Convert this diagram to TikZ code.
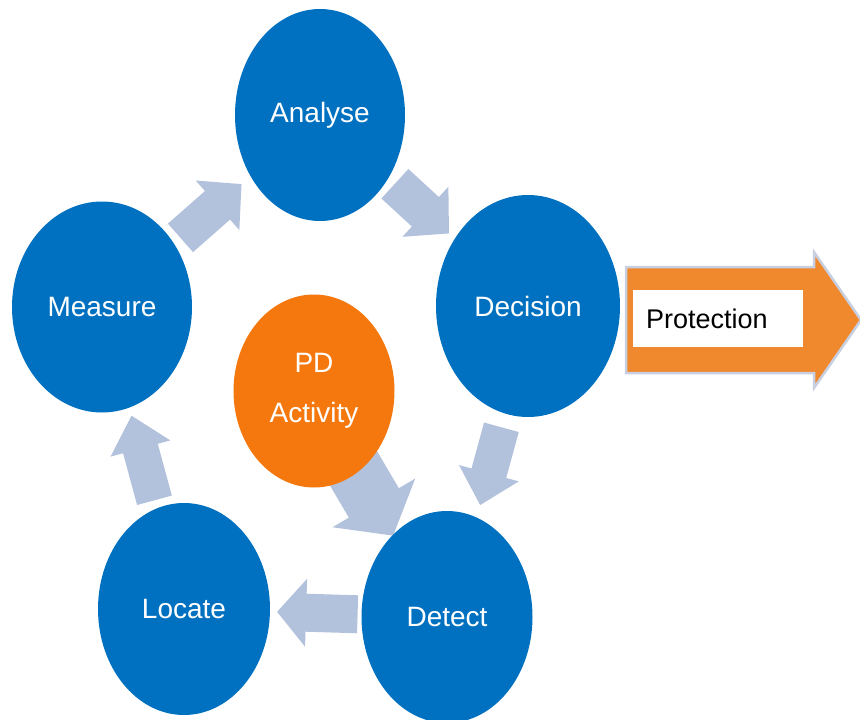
\documentclass[tikz,border=0pt]{standalone}
\usepackage{fontspec}
\setmainfont{Liberation Sans}
\usetikzlibrary{calc,shapes.geometric}
\pgfdeclarelayer{background}
\pgfsetlayers{background,main}
\definecolor{cblue}{RGB}{0,112,192}
\definecolor{corange}{RGB}{244,120,14}
\definecolor{parrow}{RGB}{240,137,46}
\definecolor{pborder}{RGB}{200,207,225}
\definecolor{barrow}{RGB}{178,193,220}
\newcommand\blockarr[6]{%
  \path ($(#3)!#6!(#2)$) coordinate (hb);
  \fill[#1] ($(#2)!#4!90:(#3)$) -- ($(hb)!#4!90:(#3)$) -- ($(hb)!#5!90:(#3)$) -- (#3)
    -- ($(hb)!#5!-90:(#3)$) -- ($(hb)!#4!-90:(#3)$) -- ($(#2)!#4!-90:(#3)$) -- cycle;}
\begin{document}
\begin{tikzpicture}[x=1pt,y=-1pt,
  stage/.style={ellipse, fill=cblue, inner sep=0pt, text=white, font=\fontsize{28}{33}\selectfont},
  cyclearrow/.style={fill=barrow}]
\useasboundingbox (0,0) rectangle (860,720);
% stages
\node[stage, minimum width=170pt, minimum height=212pt] (analyse) at (320,115) {Analyse};
\node[stage, minimum width=180pt, minimum height=211pt] (measure) at (102,307) {Measure};
\node[stage, minimum width=184pt, minimum height=222pt] (decision) at (528,306) {Decision};
\node[stage, minimum width=172pt, minimum height=212pt] (locate) at (184,609) {Locate};
\node[stage, minimum width=171pt, minimum height=212pt] (detect) at (447,617) {Detect};
\node[stage, fill=corange, minimum width=161pt, minimum height=193pt, align=center,
  font=\fontsize{28}{50}\selectfont] (pd) at (314,391) {PD\\Activity};
% protection arrow
\fill[parrow, draw=pborder, line width=2.5pt] (626,267) -- (814,267) -- (814,252) -- (861,320)
  -- (814,388) -- (814,373) -- (626,373) -- cycle;
\node[fill=white, minimum width=170pt, minimum height=57pt, text width=144pt, inner xsep=13pt,
  inner ysep=0pt, align=left, font=\fontsize{27}{32}\selectfont] (prot) at (718,318.5) {Protection};
% cycle arrows
\begin{pgfonlayer}{background}
\coordinate (a1s) at ($(measure)!0.36!(analyse)$);
\coordinate (a1e) at ($(measure)!0.64!(analyse)$);
\coordinate (a2s) at ($(analyse)!0.36!(decision)$);
\coordinate (a2e) at ($(analyse)!0.62!(decision)$);
\coordinate (a3s) at ($(decision)!0.39!(detect)+(5,0)$);
\coordinate (a3e) at ($(decision)!0.64!(detect)+(4,0)$);
\coordinate (a4s) at ($(pd)!0.2!(detect)+(-6,0)$);
\coordinate (a4e) at ($(pd)!0.64!(detect)+(-6,0)$);
\coordinate (a5s) at ($(detect)!0.34!(locate)$);
\coordinate (a5e) at ($(detect)!0.646!(locate)$);
\coordinate (a6s) at ($(locate)!0.36!(measure)$);
\coordinate (a6e) at ($(locate)!0.64!(measure)$);
\blockarr{cyclearrow}{a1s}{a1e}{19pt}{33pt}{32pt}
\blockarr{cyclearrow}{a2s}{a2e}{20pt}{34pt}{32pt}
\blockarr{cyclearrow}{a3s}{a3e}{18pt}{31pt}{33pt}
\blockarr{cyclearrow}{a4s}{a4e}{29pt}{48pt}{38pt}
\blockarr{cyclearrow}{a5s}{a5e}{19pt}{34pt}{29pt}
\blockarr{cyclearrow}{a6s}{a6e}{18pt}{31pt}{34pt}
\end{pgfonlayer}
\end{tikzpicture}
\end{document}
